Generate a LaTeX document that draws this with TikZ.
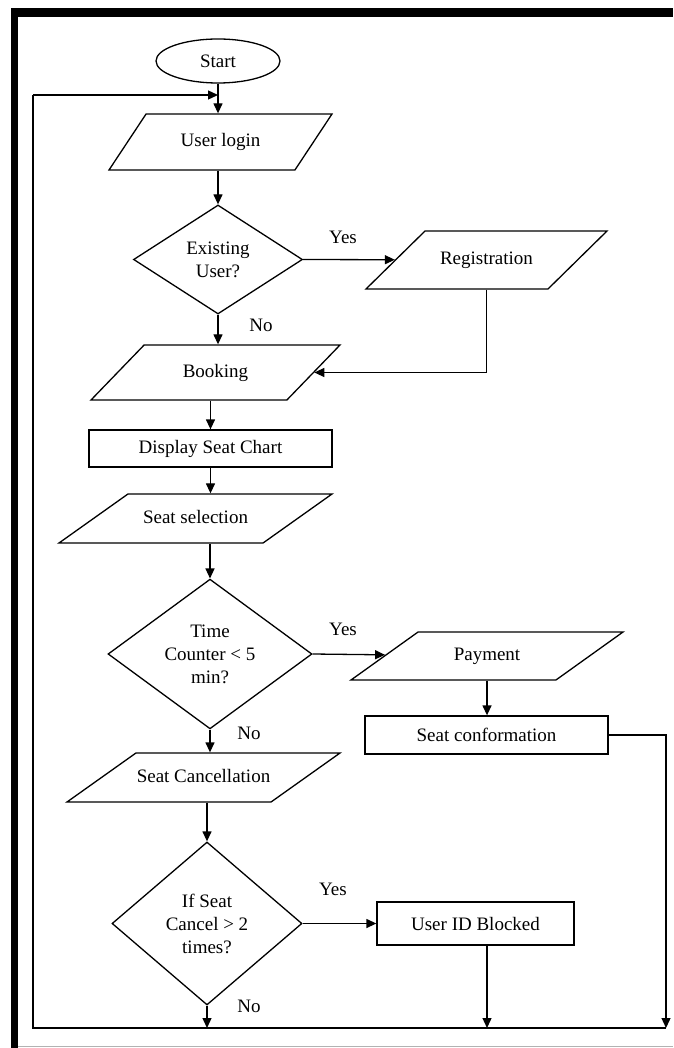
\documentclass[tikz,border=0pt]{standalone}
\usepackage{fontspec}
\setmainfont{Liberation Serif}
\usetikzlibrary{shapes.geometric,arrows.meta}

\begin{document}
\begin{tikzpicture}[x=1pt,y=-1pt,
    flow/.style={draw, line width=1.3pt, inner sep=0pt, align=center,
        font=\fontsize{19}{23}\selectfont},
    term/.style={flow, ellipse, minimum width=124pt, minimum height=44pt},
    iobox/.style 2 args={flow, trapezium, trapezium left angle=#1,
        trapezium right angle=180-#1, trapezium stretches body,
        text height=13pt, text depth=4pt, inner ysep=#2},
    procbox/.style={flow, rectangle},
    decide/.style={flow, diamond},
    line/.style={line width=1.3pt},
    arr/.style={line, -{Triangle[length=10pt,width=9pt]}},
    lbl/.style={font=\fontsize{19}{23}\selectfont}]
                \useasboundingbox (0,0) rectangle (673,1048);

                %%frame
                \fill (11,8) rectangle (673,17);
                \fill (11,8) rectangle (18,1048);
                \draw[gray!60, line width=1pt] (18,1046) -- (673,1046);

                %%main column
                \node[term] (start) at (218,61) {Start};
                \node[iobox={56.5}{19.5pt}, minimum width=223pt]
                    (login) at (220.5,142) {User login};
                \node[decide, minimum width=169pt, minimum height=109pt]
                    (exist) at (218,259.5) {Existing\\User?};
                \node[iobox={46}{19pt}, minimum width=249pt]
                    (book) at (215.5,372.5) {Booking};
                \node[procbox, minimum width=243pt, minimum height=37pt]
                    (chart) at (210.5,448.5) {Display Seat Chart};
                \node[iobox={35.4}{16pt}, minimum width=273pt]
                    (select) at (195.5,518.5) {Seat selection};
                \node[decide, minimum width=204pt, minimum height=141pt]
                    (timer) at (210,654) {Time\\Counter < 5\\min?};
                \node[iobox={35.4}{16pt}, minimum width=273pt]
                    (cancel) at (203.5,777.5) {Seat Cancellation};
                \node[decide, minimum width=190pt, minimum height=163pt]
                    (limit) at (207,923.5) {If Seat\\Cancel > 2\\times?};

                %%right column
                \node[iobox={44.5}{20.5pt}, minimum width=241pt]
                    (reg) at (486.5,260) {Registration};
                \node[iobox={35.6}{15.5pt}, minimum width=272pt]
                    (pay) at (487,656) {Payment};
                \node[procbox, minimum width=243pt, minimum height=38pt]
                    (confirm) at (486.5,735) {Seat conformation};
                \node[procbox, minimum width=197pt, minimum height=43pt]
                    (block) at (475.5,923.5) {User ID Blocked};

                %%labels
                \node[lbl] (yesA) at (343,237) {Yes};
                \node[lbl] (noA) at (261,325) {No};
                \node[lbl] (yesB) at (343,629) {Yes};
                \node[lbl] (noB) at (249,733) {No};
                \node[lbl] (yesC) at (333,889) {Yes};
                \node[lbl] (noC) at (249,1006) {No};

                %%loop
                \coordinate (loopL) at (33,1028);
                \coordinate (loopR) at (666,1028);
                \coordinate (loopT) at (33,95);

                %%connectors
                \draw[arr] (start.south) -- (start.south |- login.north);
                \draw[arr] (login.south -| exist.north) -- (exist.north);
                \draw[arr] (exist.east) -- (reg);
                \draw[arr] (exist.south) -- (exist.south |- book.north);
                \draw[arr] (reg.south) |- (book.east);
                \draw[arr] (chart.north |- book.south) -- (chart.north);
                \draw[arr] (chart.south) -- (chart.south |- select.north);
                \draw[arr] (timer.north |- select.south) -- (timer.north);
                \draw[arr] (timer.east) -- (pay);
                \draw[arr] (pay.south) -- (pay.south |- confirm.north);
                \draw[arr] (timer.south) -- (timer.south |- cancel.north);
                \draw[arr] (limit.north |- cancel.south) -- (limit.north);
                \draw[arr] (limit.east) -- (block.west);
                \draw[arr] (confirm.east) -| (loopR);
                \draw[arr] (limit.south) -- (limit.south |- loopL);
                \draw[arr] (block.south -| pay.south) -- (pay.south |- loopL);
                \draw[line] (loopR) -- (loopL) -- (loopT);
                \draw[arr] (loopT) -- (loopT -| start.south);
\end{tikzpicture}
\end{document}
